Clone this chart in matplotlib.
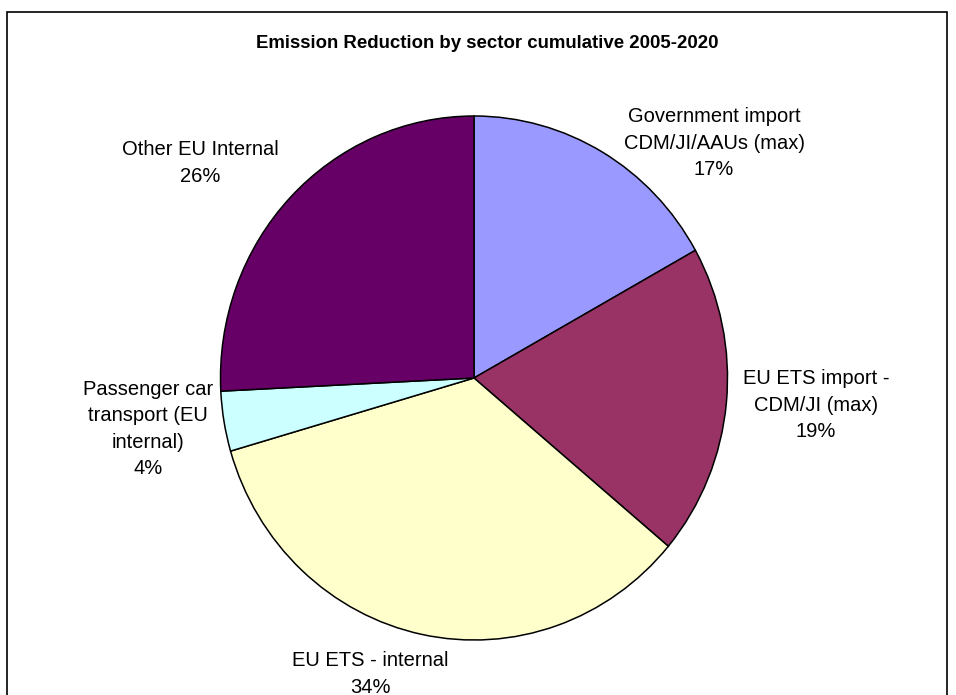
import matplotlib
matplotlib.use("Agg")
import matplotlib.pyplot as plt
from matplotlib.patches import Rectangle

plt.rcParams['font.family'] = ['Liberation Sans', 'DejaVu Sans']

title = "Emission Reduction by sector cumulative 2005-2020"
categories = [
    "Government import\nCDM/JI/AAUs (max)",
    "EU ETS import -\nCDM/JI (max)",
    "EU ETS - internal",
    "Passenger car\ntransport (EU\ninternal)",
    "Other EU Internal",
]
values = [16.9, 19.2, 34.4, 3.7, 25.8]
colors = ["#9999FF", "#993366", "#FFFFCC", "#CCFFFF", "#660066"]
pct_labels = ["17%", "19%", "34%", "4%", "26%"]

W, H = 956, 695
fig = plt.figure(figsize=(W / 100, H / 100), dpi=100)

# pie axes: center (474,378) px, rx 253.5, ry 262
cx, cy, rx, ry = 474, 378, 253.5, 262
ax = fig.add_axes([(cx - rx) / W, (H - (cy + ry)) / H, 2 * rx / W, 2 * ry / H])
ax.pie(values, colors=colors, startangle=90, counterclock=False,
       wedgeprops=dict(edgecolor="black", linewidth=1.1))
ax.set_aspect('auto')
ax.set_xlim(-1, 1)
ax.set_ylim(-1, 1)
ax.axis('off')

# label positions in pixels (layout only)
label_px = [(714, 143), (816, 405), (370, 674), (148, 429), (200, 163)]
for (px, py), cat, pct in zip(label_px, categories, pct_labels):
    x = (px - cx) / rx
    y = (cy - py) / ry
    ax.text(x, y, cat + "\n" + pct, ha="center", va="center", fontsize=14.5,
            linespacing=1.5, clip_on=False, color="black")

fig.text(487 / W, 1 - 43 / H, title, ha="center", va="center",
         fontsize=13.4, fontweight="bold")

fig.patches.append(Rectangle((7 / W, -0.02), 940 / W, (H - 12) / H + 0.02,
                             transform=fig.transFigure, fill=False,
                             edgecolor="black", linewidth=1.2))

fig.savefig("out.png", dpi=100, facecolor="white")
